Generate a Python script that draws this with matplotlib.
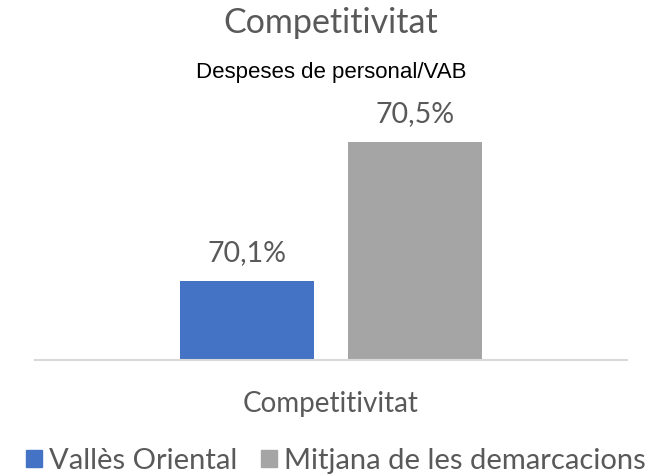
import matplotlib.pyplot as plt
from matplotlib.patches import Patch

series = ["Vallès Oriental", "Mitjana de les demarcacions"]
values = [70.1, 70.5]
labels = ["70,1%", "70,5%"]
colors = ["#4472C4", "#A5A5A5"]
category = "Competitivitat"

txt = "#595959"
font = "Lato"
W, H = 672, 476

fig = plt.figure(figsize=(6.72, 4.76), dpi=100)
# plot area: baseline at y=360 px, from x=35 to 627 px
ax = fig.add_axes([35 / W, 1 - 360 / H, 592 / W, 250 / H])

w = 0.225
gap = 0.059
for i, (v, lab, c) in enumerate(zip(values, labels, colors)):
    x = (i - 0.5) * (w + gap)
    ax.bar(x, v, width=w, color=c)
    ax.annotate(lab, (x, v), xytext=(0, 14.4), textcoords="offset points",
                ha="center", va="baseline", fontsize=20.5, color=txt,
                family=font)

ax.set_xlim(-0.5, 0.5)
ax.set_ylim(69.873, 70.592)
ax.set_yticks([])
ax.set_xticks([])
for s in ["top", "left", "right"]:
    ax.spines[s].set_visible(False)
ax.spines["bottom"].set_color("#D9D9D9")
ax.spines["bottom"].set_linewidth(1.5)

cx = 331 / W
fig.text(cx, 1 - 33 / H, "Competitivitat", ha="center", va="baseline",
         fontsize=24.5, color=txt, family=font)
fig.text(cx, 1 - 78 / H, "Despeses de personal/VAB", ha="center",
         va="baseline", fontsize=16, color="black", family="Liberation Sans")
fig.text(cx, 1 - 412 / H, category, ha="center", va="baseline",
         fontsize=20, color=txt, family=font)

handles = [Patch(color=c) for c in colors]
fig.legend(handles, series, loc="center", bbox_to_anchor=(336 / W, 1 - 461 / H),
           ncol=2, frameon=False, handlelength=0.55, handleheight=0.55,
           handletextpad=0.25, columnspacing=0.8, borderpad=0,
           labelcolor=txt, prop={"family": font, "size": 21})

fig.savefig("out.png", dpi=100)
